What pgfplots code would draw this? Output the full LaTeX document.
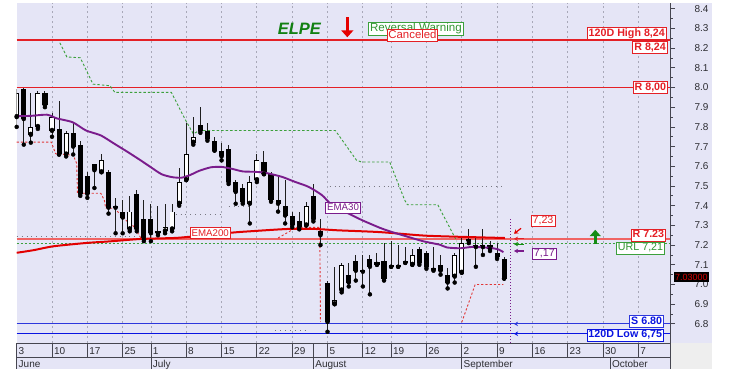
\documentclass[border=0pt]{standalone}
\usepackage{fontspec}
\setmainfont{Liberation Sans}
\usepackage{pgfplots}
\pgfplotsset{compat=1.18}
\usepackage{pgfplotstable}
\usetikzlibrary{arrows.meta}

\definecolor{bg}{RGB}{229,229,246}
\definecolor{gridc}{RGB}{168,168,184}
\definecolor{rline}{RGB}{228,32,38}
\definecolor{rlight}{RGB}{240,100,100}
\definecolor{rstop}{RGB}{225,55,55}
\definecolor{ema200}{RGB}{226,0,0}
\definecolor{ema30}{RGB}{122,28,140}
\definecolor{gline}{RGB}{60,160,60}
\definecolor{gtext}{RGB}{50,150,50}
\definecolor{garrow}{RGB}{20,140,20}
\definecolor{bline}{RGB}{45,55,220}
\definecolor{bdark}{RGB}{10,20,225}
\definecolor{elpe}{RGB}{18,128,18}
\definecolor{axisc}{RGB}{70,70,80}
\definecolor{txt}{RGB}{45,45,50}
\definecolor{greyr}{RGB}{238,238,238}
\definecolor{dots}{RGB}{120,120,130}
\definecolor{wick}{RGB}{30,30,30}

\newcommand{\fa}{\fontsize{10}{12}\selectfont}
\newcommand{\fb}{\fontsize{10.7}{12}\selectfont}
\newcommand{\fc}{\fontsize{9.7}{11}\selectfont}

\tikzset{lbl/.style={draw, fill=white, line width=0.7pt, inner xsep=1.5pt, inner ysep=1.1pt, text height=7.8pt, text depth=2.1pt}}

\pgfplotstableread{
s O H L C
0 7.85 7.99 7.80 7.97
1 7.99 8.00 7.71 7.84
2 7.76 7.97 7.72 7.80
3 7.80 7.98 7.79 7.97
4 7.97 7.98 7.90 7.91
5 7.78 7.87 7.75 7.85
6 7.79 7.93 7.66 7.66
7 7.66 7.78 7.65 7.77
8 7.77 7.82 7.66 7.70
9 7.71 7.73 7.45 7.46
10 7.55 7.57 7.44 7.46
11 7.61 7.61 7.49 7.58
12 7.57 7.66 7.57 7.63
13 7.57 7.58 7.36 7.39
14 7.40 7.44 7.26 7.39
15 7.37 7.43 7.26 7.34
16 7.28 7.45 7.27 7.37
17 7.46 7.48 7.27 7.28
18 7.33 7.43 7.22 7.23
19 7.33 7.41 7.22 7.26
20 7.26 7.40 7.25 7.27
21 7.27 7.41 7.26 7.29
22 7.28 7.41 7.27 7.37
23 7.41 7.59 7.40 7.52
24 7.53 7.82 7.53 7.66
25 7.72 7.85 7.71 7.75
26 7.81 7.90 7.77 7.78
27 7.78 7.82 7.73 7.74
28 7.73 7.75 7.68 7.68
29 7.68 7.72 7.63 7.65
30 7.69 7.71 7.51 7.52
31 7.52 7.53 7.41 7.47
32 7.49 7.51 7.41 7.42
33 7.41 7.55 7.31 7.52
34 7.53 7.66 7.52 7.63
35 7.62 7.68 7.56 7.56
36 7.56 7.57 7.42 7.43
37 7.43 7.55 7.37 7.41
38 7.40 7.53 7.31 7.35
39 7.35 7.37 7.29 7.30
40 7.32 7.37 7.28 7.29
41 7.30 7.42 7.30 7.40
42 7.45 7.51 7.32 7.33
43 7.27 7.33 7.20 7.25
44 7.01 7.02 6.76 6.81
45 6.90 7.09 6.90 6.92
46 6.97 7.11 6.96 7.10
47 7.05 7.11 6.99 7.01
48 7.12 7.15 7.02 7.07
49 7.065 7.15 6.99 7.075
50 7.13 7.15 6.95 7.09
51 7.10 7.16 7.10 7.115
52 7.12 7.21 7.02 7.03
53 7.10 7.22 7.09 7.09
54 7.09 7.20 7.09 7.10
55 7.11 7.19 7.11 7.12
56 7.10 7.18 7.10 7.15
57 7.18 7.19 7.10 7.11
58 7.16 7.17 7.08 7.09
59 7.085 7.19 7.07 7.075
60 7.10 7.15 7.05 7.07
61 7.05 7.085 6.98 7.01
62 7.04 7.16 7.01 7.15
63 7.06 7.24 7.06 7.21
64 7.23 7.28 7.21 7.22
65 7.19 7.24 7.09 7.20
66 7.19 7.28 7.15 7.20
67 7.20 7.22 7.17 7.18
68 7.16 7.21 7.13 7.14
69 7.13 7.14 7.03 7.03
}\candles

\begin{document}
\begin{tikzpicture}[x=1pt,y=1pt]
\useasboundingbox (0,0) rectangle (746,384);
% background panels
\fill[bg] (16.7,14.7) rectangle (711.7,381.3);
\fill[greyr] (670,14.7) rectangle (711.7,41);
% vertical grid
\foreach \s in {5,10,15,19,24,29,34,39,44,49,53,58,63,68,73,78,83,88}
  \draw[gridc, line width=0.8pt, dash pattern=on 2.5pt off 2.5pt] ({16.7+7.064*\s},41) -- ({16.7+7.064*\s},381.3);

\begin{axis}[
  at={(16.7pt,41pt)}, anchor=south west,
  scale only axis, width=653.3pt, height=340.3pt,
  xmin=0, xmax=92.48, ymin=6.703, ymax=8.4305,
  axis x line=none, axis y line*=right,
  y axis line style={draw=axisc, line width=0.8pt},
  ytick={6.8,6.9,7.0,7.1,7.2,7.3,7.4,7.5,7.6,7.7,7.8,7.9,8.0,8.1,8.2,8.3,8.4},
  minor y tick num=1,
  tick align=outside, major tick length=5pt, minor tick length=2.5pt,
  every tick/.style={draw=axisc, line width=0.8pt},
  yticklabel style={font=\fa, text=txt, anchor=center, xshift=26.5pt,
    /pgf/number format/fixed, /pgf/number format/fixed zerofill, /pgf/number format/precision=1},
  /pgf/number format/assume math mode=true,
]
% horizontal levels
\addplot[rline, line width=1.6pt] coordinates {(0,8.24) (92.48,8.24)};
\addplot[rline, line width=1pt] coordinates {(0,8.00) (92.48,8.00)};
\addplot[rlight, line width=1.4pt] coordinates {(0,7.23) (92.48,7.23)};
\addplot[gline, line width=1pt, dash pattern=on 2pt off 2pt] coordinates {(0,7.21) (92.48,7.21)};
\addplot[bline, line width=0.9pt] coordinates {(0,6.80) (92.48,6.80)};
\addplot[bdark, line width=1.4pt] coordinates {(0,6.75) (92.48,6.75)};
% faint dotted levels
\addplot[dots, line width=0.9pt, dash pattern=on 0.9pt off 4pt] coordinates {(0,7.245) (17,7.245)};
\addplot[dots, line width=0.9pt, dash pattern=on 0.9pt off 4pt] coordinates {(22.5,7.357) (29,7.357)};
\addplot[dots, line width=0.9pt, dash pattern=on 0.9pt off 4pt] coordinates {(30,7.395) (33,7.395)};
\addplot[dots, line width=0.9pt, dash pattern=on 0.9pt off 4pt] coordinates {(44.3,7.496) (69.1,7.496)};
\addplot[dots, line width=0.9pt, dash pattern=on 0.9pt off 4pt] coordinates {(36.6,6.766) (41.2,6.766)};
% green trailing stop
\addplot[gline, line width=0.9pt, dash pattern=on 2.5pt off 2pt] coordinates {
(6.1,8.227) (7.1,8.155) (9.0,8.151) (10.8,8.017) (13.2,8.009) (13.9,7.975) (21.9,7.975)
(23.8,7.841) (25.0,7.765) (25.9,7.782) (45.1,7.782) (48.1,7.631) (48.8,7.622) (52.8,7.622)
(54.9,7.43) (55.3,7.405) (59.6,7.405) (62.3,7.22)};
% red trailing stop
\addplot[rstop, line width=0.9pt, dash pattern=on 2.2pt off 2pt] coordinates {
(0,7.723) (4.9,7.723) (5.5,7.664) (8.0,7.656) (8.5,7.614) (8.6,7.463) (11.9,7.463)
(12.4,7.429) (12.6,7.387) (13.8,7.387) (15.6,7.322) (16.5,7.297) (17.6,7.235)};
\addplot[rstop, line width=0.9pt, dash pattern=on 2.2pt off 2pt] coordinates {
(37.0,7.236) (39.6,7.29) (42.9,7.29) (43.0,6.81)};
\addplot[rstop, line width=0.9pt, dash pattern=on 2.2pt off 2pt] coordinates {
(63.0,6.808) (64.9,7.0) (68.9,7.0)};
% candles: wicks
\addplot[only marks, mark=none, forget plot,
  error bars/.cd, y dir=plus, y explicit, error mark=none,
  error bar style={draw=wick, solid, line width=1pt}]
  table[x=s, y=L, y error expr=\thisrow{H}-\thisrow{L}] {\candles};
% black bodies
\addplot[only marks, mark=none, forget plot,
  restrict expr to domain={\thisrow{O}-\thisrow{C}}{0.0001:100},
  error bars/.cd, y dir=plus, y explicit, error mark=none,
  error bar style={draw=black, solid, line width=5.1pt}]
  table[x=s, y=C, y error expr=\thisrow{O}-\thisrow{C}] {\candles};
% white bodies: outline
\addplot[only marks, mark=none, forget plot,
  restrict expr to domain={\thisrow{C}-\thisrow{O}}{0.0001:100},
  error bars/.cd, y dir=plus, y explicit, error mark=none,
  error bar style={draw=black, solid, line width=5.1pt}]
  table[x=s, y=O, y error expr=\thisrow{C}-\thisrow{O}] {\candles};
% white bodies: fill
\addplot[only marks, mark=none, forget plot,
  restrict expr to domain={\thisrow{C}-\thisrow{O}}{0.012:100},
  error bars/.cd, y dir=plus, y explicit, error mark=none,
  error bar style={draw=white, solid, line width=3.3pt}]
  table[x=s, y expr=\thisrow{O}+0.0045, y error expr=\thisrow{C}-\thisrow{O}-0.009] {\candles};
% EMA200
\addplot[ema200, line width=2pt, smooth, tension=0.4] coordinates {
(0,7.161) (2.35,7.174) (5.2,7.194) (9.9,7.211) (13.2,7.219) (17.5,7.231) (22.2,7.236)
(24.1,7.241) (30.7,7.264) (33,7.27) (38.4,7.282) (42.2,7.282) (45.5,7.275) (51.4,7.266)
(57.8,7.248) (64.9,7.24) (69.1,7.236)};
% EMA30
\addplot[ema30, line width=1.9pt, smooth, tension=0.4] coordinates {
(0,7.855) (2,7.856) (4.3,7.862) (5.7,7.843) (7.9,7.824) (9.8,7.782) (11.9,7.757)
(13.8,7.715) (15.7,7.673) (17.3,7.636) (18.8,7.600) (20.5,7.560) (22.0,7.545) (23.3,7.542)
(24.5,7.555) (25.9,7.578) (27.5,7.595) (29.0,7.597) (30.5,7.587) (32.0,7.574) (33.7,7.572)
(35.2,7.567) (37.5,7.547) (39.4,7.521) (41.3,7.496) (43.2,7.454) (44.6,7.404) (46.5,7.369)
(48.8,7.328) (51.4,7.288) (52.8,7.27) (55.2,7.244) (57.6,7.219) (59.9,7.202) (60.9,7.188)
(62.8,7.184) (64.6,7.191) (67,7.186) (68.2,7.178) (68.9,7.164)};
% current-day marker line
\addplot[ema30, line width=0.9pt, dash pattern=on 1pt off 2pt] coordinates {(69.9,7.33) (69.9,6.703)};
% line labels
\node[lbl, draw=rline, text=rline, font=\bfseries\fb, anchor=south east] at (axis cs:92.48,8.24) [xshift=-3.3pt, yshift=0.5pt] {120D High 8,24};
\node[lbl, draw=rline, text=rline, font=\bfseries\fb, anchor=north east] at (axis cs:92.48,8.24) [xshift=-2.3pt, yshift=-0.6pt] {R 8,24};
\node[lbl, draw=rline, text=rline, font=\bfseries\fb, anchor=east] at (axis cs:92.48,8.00) [xshift=-2pt] {R 8,00};
\node[lbl, draw=rline, text=rline, font=\bfseries\fb, anchor=east] at (axis cs:92.48,7.23) [xshift=-4pt, yshift=4.2pt] {R 7.23};
\node[lbl, draw=gline, text=gtext, font=\fb, anchor=east] at (axis cs:92.48,7.21) [xshift=-5pt, yshift=-4.8pt] {URL 7,21};
\node[lbl, draw=bline, text=bdark, font=\bfseries\fb, anchor=east] at (axis cs:92.48,6.80) [xshift=-6pt, yshift=2.7pt] {S 6.80};
\node[lbl, draw=bdark, text=bdark, font=\bfseries\fb, anchor=east] at (axis cs:92.48,6.75) [xshift=-6pt, yshift=-1.2pt] {120D Low 6,75};
\node[lbl, draw=rline, text=rline, font=\fc, inner ysep=0.6pt] at (axis cs:27.4,7.26) {EMA200};
\node[lbl, draw=ema30, text=ema30, font=\fc, inner ysep=0.6pt] at (axis cs:46.2,7.389) {EMA30};
\node[lbl, draw=rline, text=rline, font=\fb, inner ysep=0.8pt] at (axis cs:74.5,7.322) {7,23};
\node[lbl, draw=ema30, text=ema30, font=\fb, inner ysep=0.8pt] at (axis cs:74.7,7.155) {7,17};
% level arrows
\draw[ema200, line width=1.2pt, -{Stealth[length=4pt,width=5pt]}] (axis cs:71.4,7.285) -- (axis cs:70.4,7.258);
\draw[rline, line width=1.2pt, -{Stealth[length=4pt,width=4.5pt]}] (axis cs:71.8,7.232) -- (axis cs:70.4,7.232);
\draw[garrow, line width=1.2pt, -{Stealth[length=4pt,width=4.5pt]}] (axis cs:71.8,7.205) -- (axis cs:70.4,7.205);
\draw[ema30, line width=1.2pt, -{Stealth[length=4pt,width=4.5pt]}] (axis cs:71.8,7.17) -- (axis cs:70.4,7.17);
\draw[bline, line width=1.2pt, -{Stealth[length=4pt,width=4.5pt]}] (axis cs:72.0,6.80) -- (axis cs:70.4,6.80);
\draw[bdark, line width=1.2pt, -{Stealth[length=4pt,width=4.5pt]}] (axis cs:72.0,6.75) -- (axis cs:70.4,6.75);
% signal arrows
\draw[garrow, line width=3.4pt, -{Triangle[width=11pt,length=6.5pt]}] (axis cs:81.9,7.205) -- (axis cs:81.9,7.278);
\draw[red!90!black, line width=3.4pt, -{Triangle[width=12pt,length=7pt]}] (axis cs:46.8,8.356) -- (axis cs:46.8,8.255);
\end{axis}

% date band
\draw[axisc, line width=0.8pt] (16.7,41) -- (670,41);
\draw[axisc, line width=0.8pt] (16.7,27) -- (670,27);
\foreach \s in {0,5,10,15,19,24,29,34,39,42,44,49,53,58,63,68,73,78,83,88}
  \draw[axisc, line width=0.8pt] ({16.7+7.064*\s},41) -- ({16.7+7.064*\s},27);
\foreach \s in {0,19,42,63,84}
  \draw[axisc, line width=0.8pt] ({16.7+7.064*\s},27) -- ({16.7+7.064*\s},14.7);
\draw[axisc, line width=0.8pt] (670,41) -- (670,14.7);
\foreach \s/\t in {0/3,5/10,10/17,15/25,19/1,24/8,29/15,34/22,39/29,44/5,49/12,53/19,58/26,63/2,68/9,73/16,78/23,83/30,88/7}
  \node[anchor=base west, inner sep=0, font=\fa, text=txt] at ({16.7+7.064*\s+1.8},29.4) {\t};
\foreach \s/\t in {0/June,19/July,42/August,63/September,84/October}
  \node[anchor=base west, inner sep=0, font=\fa, text=txt] at ({16.7+7.064*\s+1.8},16.6) {\t};

% title and signals
\node[inner sep=0, font=\bfseries\itshape\fontsize{16.5}{18}\selectfont, text=elpe] at (299.3,355.5) {ELPE};
\node[draw=gline, text=gtext, fill=white, line width=0.7pt, inner xsep=1.2pt, inner ysep=1pt, text height=8.3pt, text depth=2.4pt, font=\fontsize{11.6}{13}\selectfont] at (415.9,355.1) {Reversal Warning};
\node[draw=rline, text=rline, fill=white, line width=0.7pt, inner xsep=1.2pt, inner ysep=1pt, text height=8.3pt, text depth=1.4pt, font=\fontsize{11.4}{13}\selectfont] at (412.5,348.7) {Canceled};
% last price
\node[fill=black, text=red!85!black, font=\fontsize{9}{10}\selectfont, inner xsep=1.3pt, inner ysep=1.8pt] at (691.3,107) {7.03000};
\end{tikzpicture}
\end{document}
